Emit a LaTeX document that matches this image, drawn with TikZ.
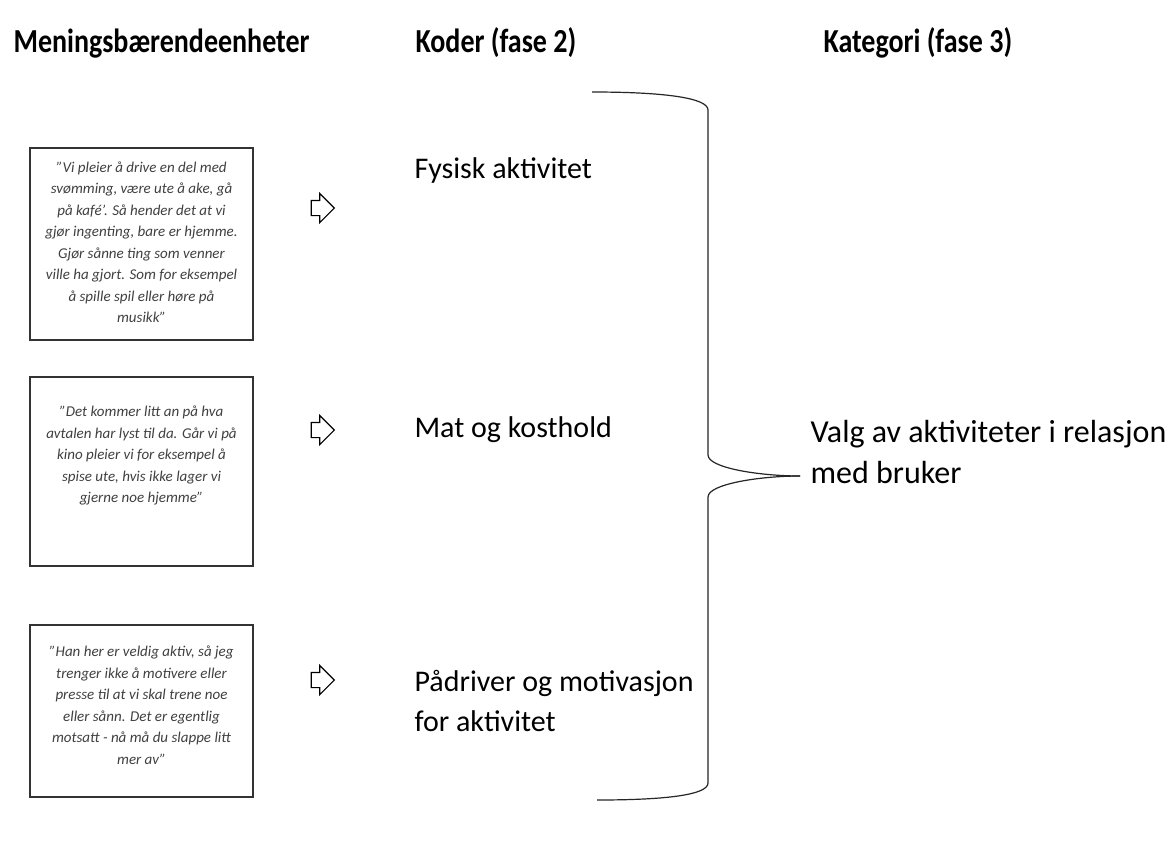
\documentclass[tikz,border=0pt]{standalone}
\usepackage{fontspec}
\setmainfont{Carlito}
\usetikzlibrary{positioning, shapes.arrows}
\tikzset{
x=1pt, y=-1pt, % one unit is one pixel of the original, y runs downwards
quotebox/.style={draw=black!80, line width=1.2pt, minimum width=223pt}, % frames round the quotes
quote/.style={align=center, inner sep=0pt, font=\fontsize{15}{21.5}\selectfont\itshape, text=black!75}, % the quoted text
header/.style={anchor=base west, font=\fontsize{28}{30}\selectfont\bfseries}, % column titles
code/.style={anchor=west, align=left, font=\fontsize{30}{40}\selectfont}, % codes
hint/.style={single arrow, draw, line width=1.1pt, minimum height=23pt, minimum width=28pt, single arrow head extend=7pt, inner xsep=0pt, inner ysep=7pt}, % small outline arrows
}
\newcommand{\tall}[1]{\scalebox{1}[1.2]{#1}}
\begin{document}
\begin{tikzpicture}
\useasboundingbox[fill=white] (0,0) rectangle (1172,857);
% column titles
\node[header] (h1) at (10,52) {\tall{Meningsbærendeenheter}};
\node[header] (h2) at (412,52) {\tall{Koder (fase 2)}};
\node[header] (h3) at (820,52) {\tall{Kategori (fase 3)}};
% quote frames
\node[quotebox, minimum height=192pt] (q1) at (141.5,244) {};
\node[quotebox, minimum height=189pt] (q2) at (141.5,471.5) {};
\node[quotebox, minimum height=172pt] (q3) at (141.5,711) {};
% quotes
\node[quote] (t1) at ([yshift=2pt]q1.center) {”Vi pleier å drive en del med\\svømming, være ute å ake, gå\\på kafé’. Så hender det at vi\\gjør ingenting, bare er hjemme.\\Gjør sånne ting som venner\\ville ha gjort. Som for eksempel\\å spille spil eller høre på\\musikk”};
\node[quote] (t2) at ([yshift=16pt]q2.center) {”Det kommer litt an på hva\\avtalen har lyst til da. Går vi på\\kino pleier vi for eksempel å\\spise ute, hvis ikke lager vi\\gjerne noe hjemme”};
\node[quote] (t3) at ([yshift=6pt]q3.center) {”Han her er veldig aktiv, så jeg\\trenger ikke å motivere eller\\presse til at vi skal trene noe\\eller sånn. Det er egentlig\\motsatt - nå må du slappe litt\\mer av”};
% arrows
\node[hint] (a1) at (319,208) {};
\node[hint] (a2) at (319,430) {};
\node[hint] (a3) at (319,680) {};
% codes
\node[code] (c1) at (411,170) {Fysisk aktivitet};
\node[code] (c2) at (411,430) {Mat og kosthold};
\node[code] (c3) at (411,701) {Pådriver og motivasjon\\for aktivitet};
% brace
\coordinate (tip) at (800,476);
\draw[line width=1.2pt, black!85] (592,92) .. controls (665,92) and (708,98) .. (708,110) -- (708,455) .. controls (708,468) and (760,476) .. (tip);
\draw[line width=1.2pt, black!85] (tip) .. controls (760,476) and (708,484) .. (708,497) -- (708,783) .. controls (708,795) and (665,800) .. (597,800);
% category
\node[code, font=\fontsize{32}{41}\selectfont] (k1) at (807,452) {Valg av aktiviteter i relasjon\\med bruker};
\end{tikzpicture}
\end{document}
